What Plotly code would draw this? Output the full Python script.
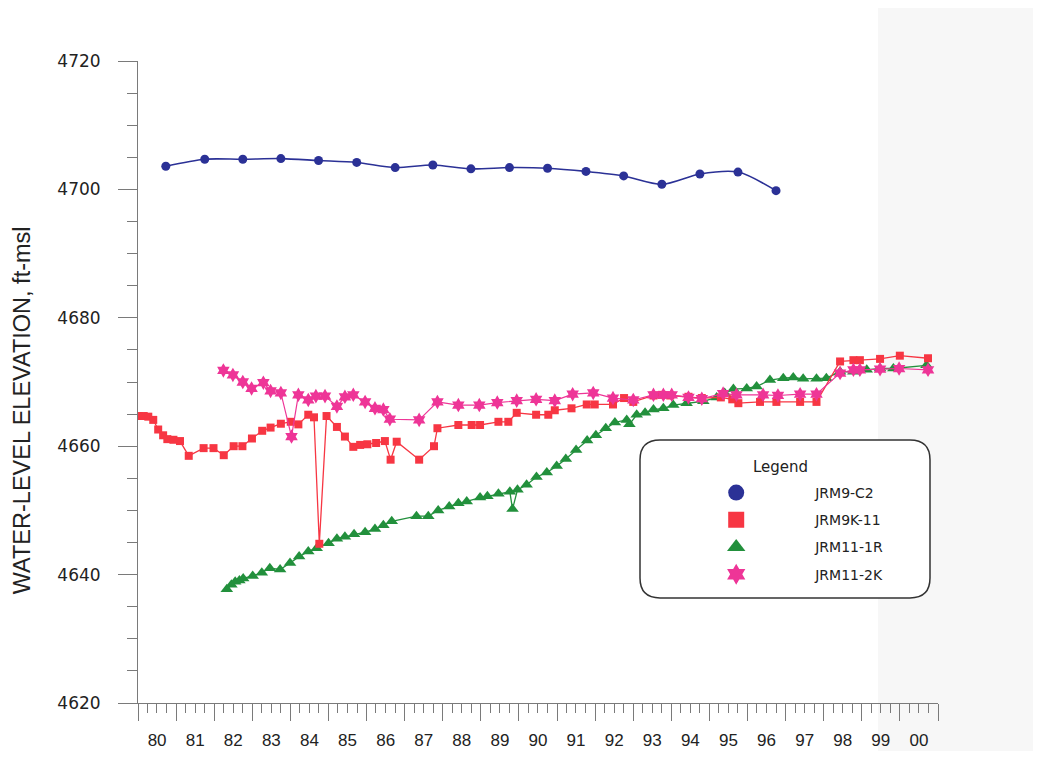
import plotly.graph_objects as go
import pandas as pd

# ---------------- data (decimal years, ft-msl) ----------------
c2_year = [1980.73, 1981.75, 1982.75, 1983.75, 1984.74, 1985.74, 1986.75, 1987.74, 1988.74,
           1989.75, 1990.75, 1991.76, 1992.75, 1993.75, 1994.75, 1995.75, 1996.75]
c2_val = [4703.6, 4704.7, 4704.7, 4704.8, 4704.5, 4704.2, 4703.4, 4703.8, 4703.2,
          4703.4, 4703.3, 4702.8, 4702.1, 4700.8, 4702.4, 4702.7, 4699.8]

k11_year = [1980.02, 1980.15, 1980.27, 1980.40, 1980.53, 1980.66, 1980.77, 1980.93, 1981.10,
            1981.33, 1981.72, 1981.98, 1982.25, 1982.51, 1982.74, 1982.99, 1983.26, 1983.48,
            1983.75, 1984.01, 1984.21, 1984.47, 1984.62, 1984.76, 1984.95, 1985.22, 1985.43,
            1985.65, 1985.83, 1986.02, 1986.25, 1986.48, 1986.63, 1986.79, 1987.38, 1987.77,
            1987.86, 1988.41, 1988.76, 1988.98, 1989.46, 1989.72, 1989.94, 1990.45, 1990.77,
            1990.94, 1991.38, 1991.78, 1991.99, 1992.47, 1992.76, 1993.00, 1993.53, 1993.75,
            1993.97, 1994.45, 1994.80, 1995.30, 1995.60, 1995.76, 1996.33, 1996.76, 1997.38,
            1997.81, 1998.43, 1998.78, 1998.95, 1999.48, 2000.00, 2000.74]
k11_val = [4664.7, 4664.7, 4664.6, 4664.1, 4662.6, 4661.7, 4661.1, 4661.0, 4660.8,
           4658.5, 4659.7, 4659.7, 4658.6, 4660.0, 4660.0, 4661.2, 4662.4, 4662.9,
           4663.5, 4663.8, 4663.4, 4664.9, 4664.5, 4644.8, 4664.7, 4663.0, 4661.5,
           4659.9, 4660.2, 4660.3, 4660.5, 4660.8, 4657.9, 4660.7, 4657.9, 4660.0,
           4662.8, 4663.3, 4663.3, 4663.3, 4663.8, 4663.8, 4665.2, 4664.9, 4664.9,
           4665.6, 4665.9, 4666.5, 4666.5, 4666.5, 4667.5, 4666.9, 4667.9, 4668.0,
           4667.9, 4667.7, 4667.5, 4667.6, 4667.3, 4666.7, 4666.9, 4666.9, 4666.9,
           4666.9, 4673.2, 4673.4, 4673.4, 4673.6, 4674.1, 4673.7]

r1_year = [1982.33, 1982.45, 1982.55, 1982.66, 1982.76, 1983.01, 1983.25, 1983.46, 1983.73,
           1983.99, 1984.23, 1984.47, 1984.69, 1985.00, 1985.22, 1985.43, 1985.67, 1985.96,
           1986.22, 1986.44, 1986.66, 1987.31, 1987.62, 1987.88, 1988.17, 1988.41, 1988.63,
           1988.98, 1989.17, 1989.46, 1989.76, 1989.83, 1989.96, 1990.20, 1990.46, 1990.73,
           1990.99, 1991.23, 1991.50, 1991.79, 1992.02, 1992.28, 1992.52, 1992.83, 1992.90,
           1993.09, 1993.31, 1993.53, 1993.79, 1994.05, 1994.40, 1994.84, 1995.19, 1995.40,
           1995.63, 1995.98, 1996.24, 1996.59, 1996.94, 1997.20, 1997.46, 1997.81, 1998.07,
           1998.43, 1998.78, 1999.13, 1999.48, 1999.83, 2000.70]
r1_val = [4637.7, 4638.4, 4638.9, 4639.1, 4639.4, 4639.8, 4640.3, 4641.0, 4640.8,
          4641.8, 4642.8, 4643.6, 4644.1, 4644.9, 4645.6, 4645.9, 4646.3, 4646.6,
          4647.1, 4647.7, 4648.3, 4649.1, 4649.1, 4650.0, 4650.6, 4651.1, 4651.4,
          4652.0, 4652.2, 4652.6, 4652.9, 4650.2, 4653.2, 4654.0, 4655.2, 4655.9,
          4656.9, 4658.0, 4659.4, 4660.9, 4661.7, 4662.8, 4663.7, 4664.1, 4663.4,
          4664.9, 4665.2, 4665.7, 4665.9, 4666.4, 4666.7, 4667.0, 4667.6, 4668.3,
          4668.9, 4669.0, 4669.3, 4670.3, 4670.6, 4670.7, 4670.5, 4670.5, 4670.6,
          4671.6, 4671.6, 4671.9, 4672.1, 4672.1, 4672.6]

k2_year = [1982.24, 1982.49, 1982.75, 1982.98, 1983.29, 1983.48, 1983.75, 1984.03, 1984.21,
           1984.47, 1984.67, 1984.91, 1985.22, 1985.43, 1985.65, 1985.96, 1986.22, 1986.44,
           1986.61, 1987.38, 1987.86, 1988.41, 1988.96, 1989.43, 1989.94, 1990.45, 1990.94,
           1991.41, 1991.95, 1992.47, 1993.00, 1993.53, 1993.79, 1994.01, 1994.45, 1994.80,
           1995.36, 1995.71, 1996.41, 1996.80, 1997.38, 1997.81, 1998.43, 1998.78, 1998.95,
           1999.48, 1999.98, 2000.74]
k2_val = [4671.8, 4671.1, 4670.0, 4669.0, 4669.9, 4668.6, 4668.3, 4661.5, 4668.0,
          4667.2, 4667.8, 4667.8, 4666.2, 4667.7, 4668.0, 4666.9, 4665.9, 4665.7,
          4664.2, 4664.1, 4666.9, 4666.4, 4666.4, 4666.8, 4667.1, 4667.3, 4667.1,
          4668.1, 4668.3, 4667.5, 4667.2, 4668.0, 4668.0, 4668.0, 4667.6, 4667.4,
          4668.2, 4668.0, 4668.0, 4667.9, 4668.1, 4668.1, 4671.4, 4671.9, 4671.9,
          4672.0, 4672.1, 4671.9]

series_names = ["JRM9-C2", "JRM9K-11", "JRM11-1R", "JRM11-2K"]
y_tick_vals = [4620, 4640, 4660, 4680, 4700, 4720]
y_title = "WATER-LEVEL ELEVATION, ft-msl"

BLUE = "#2b3196"
RED = "#f73643"
GREEN = "#22903c"
PINK = "#ee3597"
AXIS = "#7a7a7a"


def to_date(y):
    yr = int(y)
    return pd.Timestamp(yr, 1, 1) + pd.Timedelta(days=(y - yr) * 365.25)


fig = go.Figure()

fig.add_trace(go.Scatter(
    x=[to_date(v) for v in r1_year], y=r1_val, mode="lines+markers",
    line=dict(color=GREEN, width=1.3),
    marker=dict(symbol="triangle-up", size=11, color=GREEN),
    showlegend=False, name=series_names[2]))
fig.add_trace(go.Scatter(
    x=[to_date(v) for v in k11_year], y=k11_val, mode="lines+markers",
    line=dict(color=RED, width=1.3),
    marker=dict(symbol="square", size=8, color=RED),
    showlegend=False, name=series_names[1]))
fig.add_trace(go.Scatter(
    x=[to_date(v) for v in k2_year], y=k2_val, mode="lines+markers",
    line=dict(color=PINK, width=1.2),
    marker=dict(symbol="hexagram", size=11, color=PINK),
    showlegend=False, name=series_names[3]))
fig.add_trace(go.Scatter(
    x=[to_date(v) for v in c2_year], y=c2_val, mode="lines+markers",
    line=dict(color=BLUE, width=1.6, shape="spline", smoothing=0.8),
    marker=dict(symbol="circle", size=9, color=BLUE),
    showlegend=False, name=series_names[0]))

# legend-only entries (markers only, like the reference legend)
for nm, sym, col in zip(series_names,
                        ["circle", "square", "triangle-up", "hexagram"],
                        [BLUE, RED, GREEN, PINK]):
    fig.add_trace(go.Scatter(
        x=[None], y=[None], mode="markers", name=nm, legendgroup=nm,
        marker=dict(symbol=sym, size=22, color=col), showlegend=True))

# rounded legend box (paper coordinates of the plot area)
x0, x1, y0, y1 = 0.6275, 0.99, 0.1636, 0.4097
rx, ry = 0.025, 0.031
box_path = (f"M {x0+rx},{y1} L {x1-rx},{y1} Q {x1},{y1} {x1},{y1-ry} "
            f"L {x1},{y0+ry} Q {x1},{y0} {x1-rx},{y0} L {x0+rx},{y0} "
            f"Q {x0},{y0} {x0},{y0+ry} L {x0},{y1-ry} Q {x0},{y1} {x0+rx},{y1} Z")

fig.update_layout(
    width=1025, height=743,
    margin=dict(l=130, r=95, t=53, b=48),
    paper_bgcolor="white",
    plot_bgcolor="rgba(0,0,0,0)",
    shapes=[
        dict(type="rect", xref="paper", yref="paper", x0=0.925, x1=1.15, y0=-0.12, y1=1.12,
             fillcolor="#f7f7f7", line=dict(width=0), layer="below"),
        dict(type="path", xref="paper", yref="paper", path=box_path,
             fillcolor="white", line=dict(color="#333333", width=1.5), layer="above"),
    ],
    annotations=[
        dict(text="Legend", xref="paper", yref="paper", x=0.8025, y=0.3676,
             xanchor="center", yanchor="middle", showarrow=False,
             font=dict(family="DejaVu Sans", size=15, color="#222222")),
        dict(text=y_title, xref="paper", yref="paper", x=-0.145, y=0.456,
             xanchor="center", yanchor="middle", textangle=-90, showarrow=False,
             font=dict(family="Liberation Sans", size=23.5, color="#222222")),
    ],
    xaxis=dict(
        type="date", range=["1980-01-01", "2001-01-01"], automargin=False,
        dtick="M12", tick0="1980-01-01", tickformat="%y", ticklabelmode="period",
        ticks="outside", ticklen=17, tickwidth=1, tickcolor=AXIS,
        minor=dict(dtick="M3", tick0="1980-01-01", ticks="outside", ticklen=9,
                   tickcolor=AXIS, tickwidth=1, showgrid=False),
        showline=True, linecolor=AXIS, linewidth=1, showgrid=False, zeroline=False,
        tickfont=dict(family="Liberation Sans", size=17, color="#222222"),
        ticklabelstandoff=5,
    ),
    yaxis=dict(
        range=[4620, 4720], tickvals=y_tick_vals, automargin=False,
        ticks="outside", ticklen=19, tickwidth=1, tickcolor=AXIS,
        minor=dict(dtick=5, tick0=4620, ticks="outside", ticklen=10,
                   tickcolor=AXIS, tickwidth=1, showgrid=False),
        showline=True, linecolor=AXIS, linewidth=1, showgrid=False, zeroline=False,
        tickfont=dict(family="DejaVu Sans", size=17, color="#222222"),
        ticklabelstandoff=14,
    ),
    legend=dict(
        x=0.649, y=0.352, xanchor="left", yanchor="top",
        bgcolor="rgba(0,0,0,0)", borderwidth=0,
        font=dict(family="DejaVu Sans", size=14, color="#222222"),
        itemwidth=148, tracegroupgap=6,
    ),
)

fig.write_html("out.html")
